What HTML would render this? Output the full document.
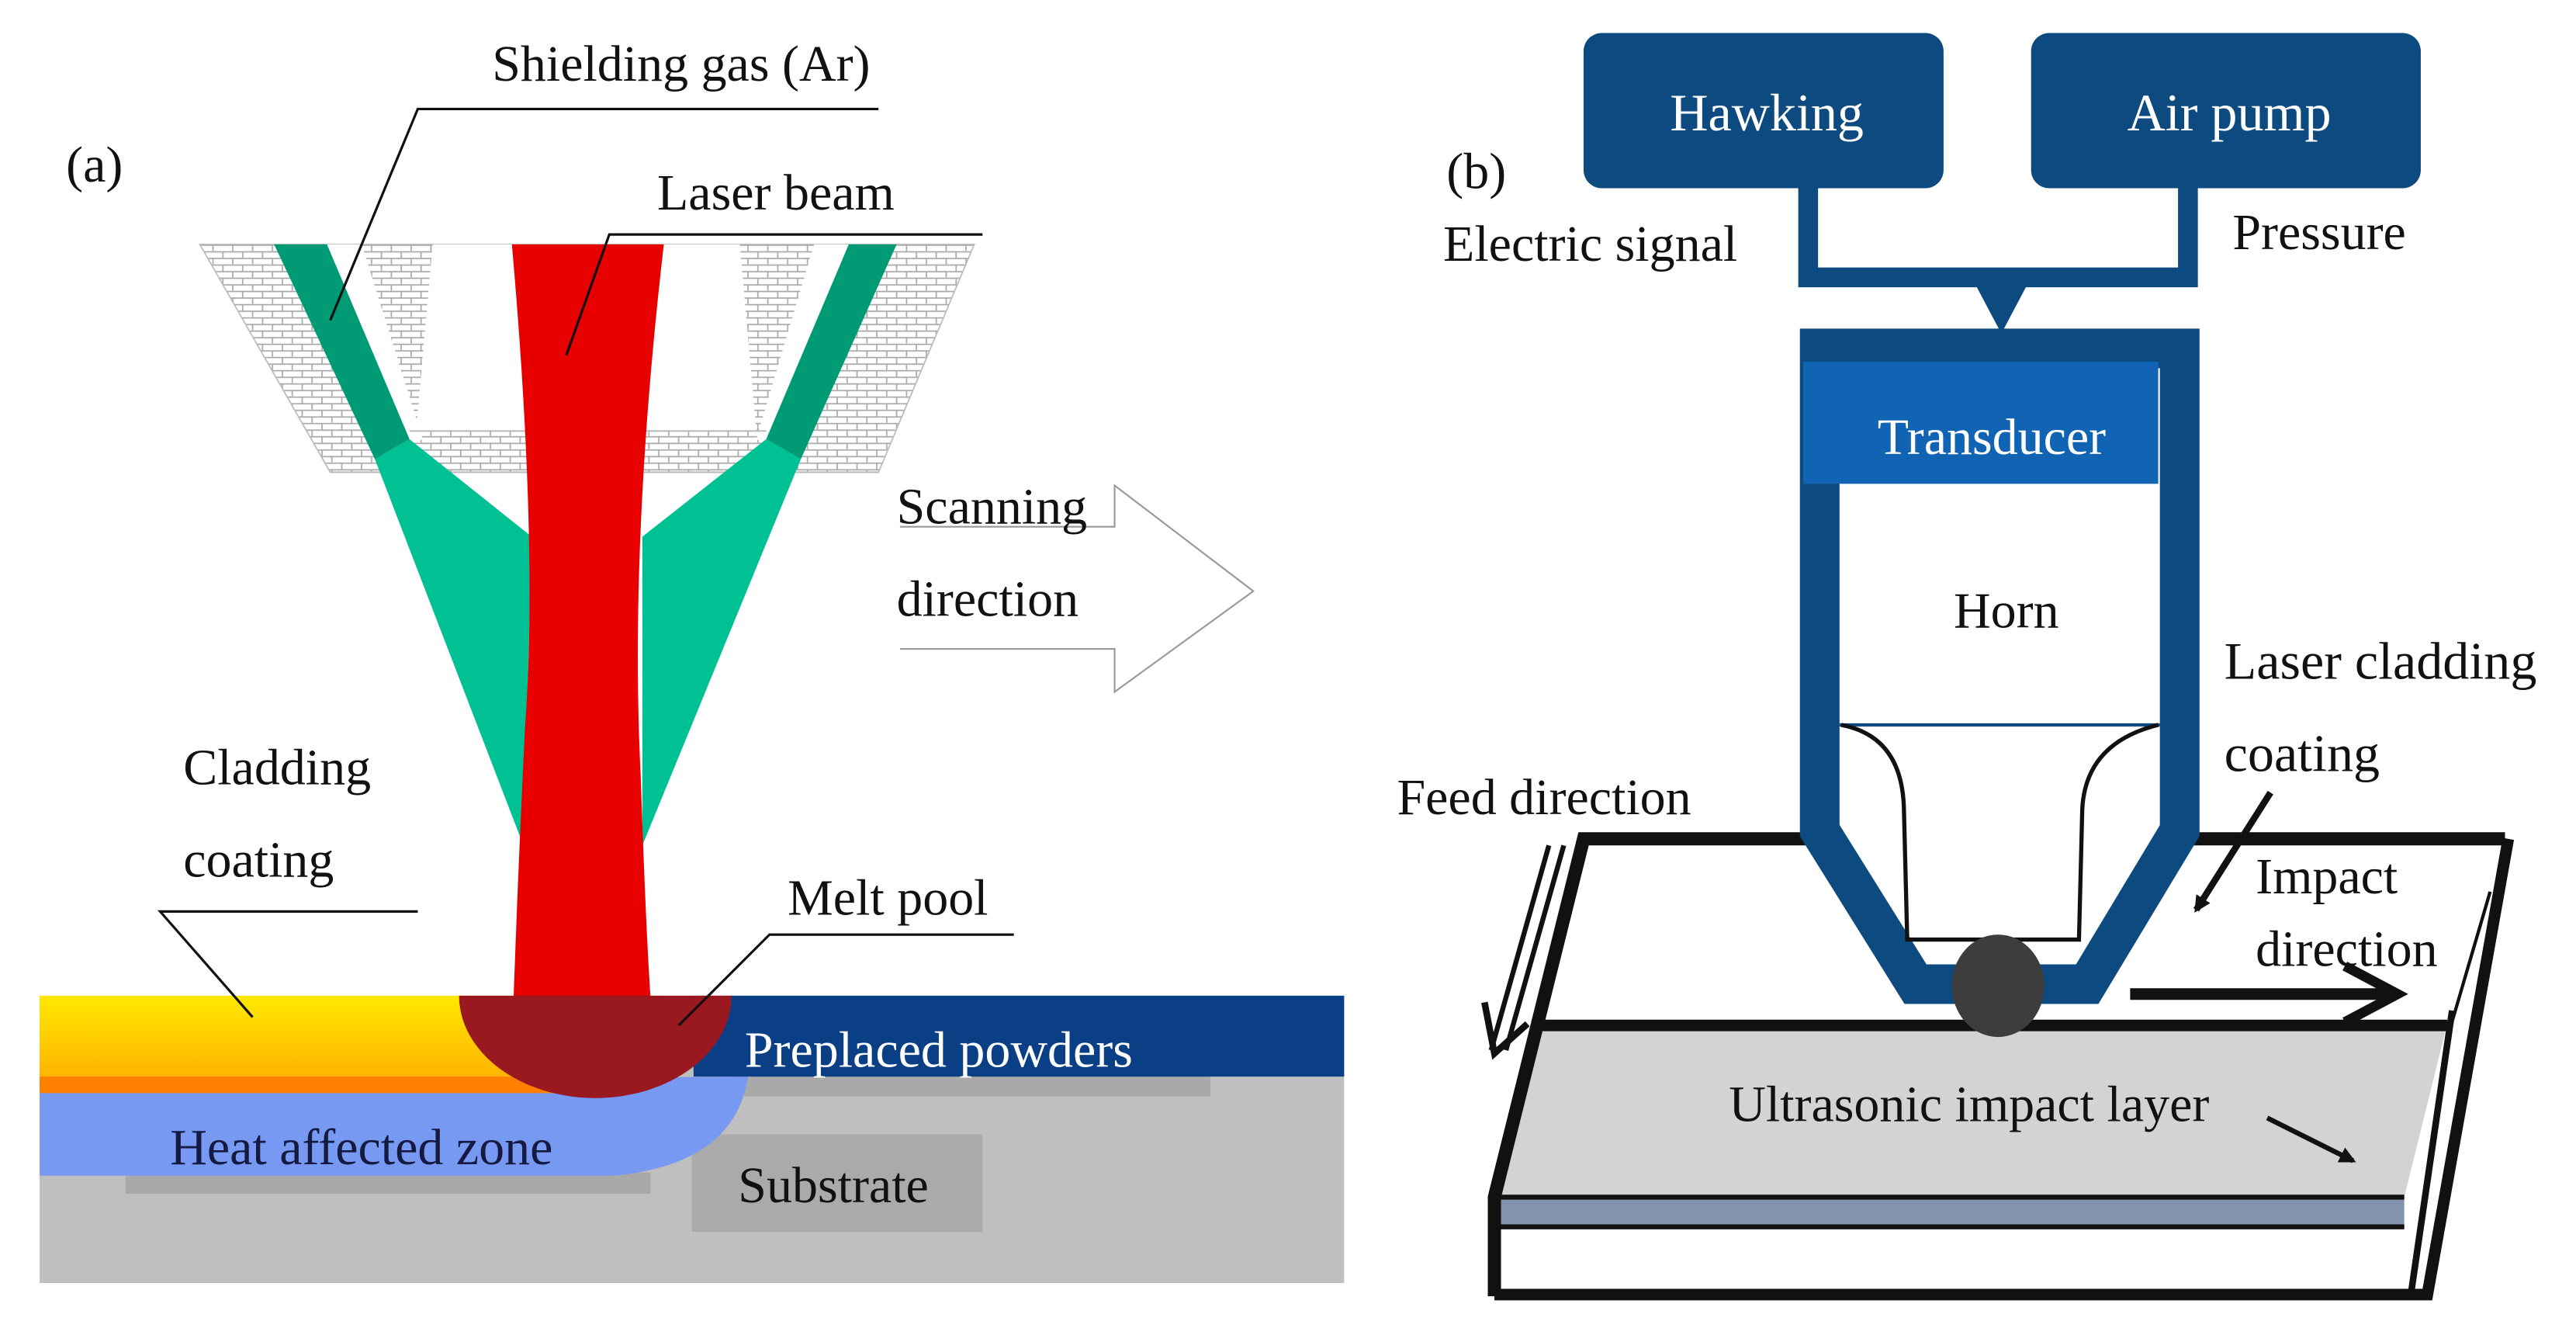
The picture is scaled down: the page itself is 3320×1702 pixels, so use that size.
<!DOCTYPE html>
<html><head><meta charset="utf-8"><style>
html,body{margin:0;padding:0;background:#fff;}
svg{display:block;}
text{font-family:"Liberation Serif",serif;fill:#111;}
</style></head><body>
<svg width="3320" height="1702" viewBox="0 0 1560 800" preserveAspectRatio="none" xmlns="http://www.w3.org/2000/svg">
<defs>
<pattern id="brick" width="12" height="8" patternUnits="userSpaceOnUse">
<rect width="12" height="8" fill="#fff"/>
<path d="M0 0.5H12M0 4.5H12M3 0.5V4.5M9 4.5V8" stroke="#a8a8a8" stroke-width="0.8" fill="none"/>
</pattern>
<linearGradient id="yel" x1="0" y1="0" x2="0" y2="1">
<stop offset="0" stop-color="#ffe800"/><stop offset="1" stop-color="#ffb400"/>
</linearGradient>
<marker id="ah" markerWidth="10" markerHeight="10" refX="8" refY="5" orient="auto" markerUnits="userSpaceOnUse">
<path d="M0,0 L10,5 L0,10 Z" fill="#111"/>
</marker>
</defs>
<rect width="1560" height="800" fill="#fff"/>

<!-- ===== Panel (a) ===== -->
<polygon points="121,148 590,148 532,286 200,286" fill="url(#brick)" stroke="#bbb" stroke-width="0.8"/>
<polygon points="262,148 448,148 458,261 252,261" fill="#fff"/>
<polygon points="198,148 219,148 256,266 236,274" fill="#fff"/>
<polygon points="493,148 514,148 476,274 458,266" fill="#fff"/>
<line x1="248" y1="261" x2="464" y2="261" stroke="#bbb" stroke-width="1"/>
<line x1="200" y1="286" x2="532" y2="286" stroke="#bbb" stroke-width="1"/>
<polygon points="227,278 248,266 322,325 317,512" fill="#00c194"/>
<polygon points="485,278 464,266 389,325 389,512" fill="#00c194"/>
<polygon points="166,148 198,148 248,266 227,278" fill="#009a74"/>
<polygon points="514,148 543,148 485,278 464,266" fill="#009a74"/>
<rect x="24" y="603" width="790" height="174" fill="#bfbfbf"/>
<rect x="443" y="652" width="290" height="12" fill="#a9a9a9"/>
<rect x="76" y="710" width="318" height="13" fill="#a9a9a9"/>
<rect x="419" y="687" width="176" height="59" fill="#aaaaaa"/>
<path d="M24,655 L453,652 Q445,705 372,712 L24,712 Z" fill="#7799f2"/>
<rect x="24" y="650" width="320" height="12" fill="#ff7f00"/>
<rect x="24" y="603" width="300" height="49" fill="url(#yel)"/>
<rect x="420" y="603" width="394" height="49" fill="#0a3f86"/>
<path d="M310,148 L402,148 Q381,330 388,470 Q391,560 394,605 L311,605 Q314,520 318,440 Q326,330 310,148 Z" fill="#e80000"/>
<path d="M278,603 L443,603 A82.5,62 0 0 1 278,603 Z" fill="#9a1820"/>
<text x="40" y="110" font-size="31">(a)</text>
<text x="298" y="49" font-size="31">Shielding gas (Ar)</text>
<polyline points="532,66 253,66 200,194" fill="none" stroke="#111" stroke-width="1.5"/>
<text x="398" y="127" font-size="31">Laser beam</text>
<polyline points="595,142 369,142 343,215" fill="none" stroke="#111" stroke-width="1.5"/>
<text x="477" y="554" font-size="31">Melt pool</text>
<polyline points="614,566 466,566 411,621" fill="none" stroke="#111" stroke-width="1.5"/>
<text x="111" y="475" font-size="31">Cladding</text>
<text x="111" y="531" font-size="31">coating</text>
<polyline points="253,552 97,552 153,616" fill="none" stroke="#111" stroke-width="1.5"/>
<text x="451" y="646" font-size="31" style="fill:#fff">Preplaced powders</text>
<text x="103" y="705" font-size="31" style="fill:#141a40">Heat affected zone</text>
<text x="447" y="728" font-size="31">Substrate</text>
<path d="M545,319 L675,319 L675,294 L759,358 L675,419 L675,393 L545,393" fill="none" stroke="#999" stroke-width="1"/>
<text x="543" y="317" font-size="31">Scanning</text>
<text x="543" y="373" font-size="31">direction</text>

<!-- ===== Panel (b) ===== -->
<rect x="959" y="20" width="218" height="94" rx="11" fill="#0d4a80"/>
<rect x="1230" y="20" width="236" height="94" rx="11" fill="#0d4a80"/>
<text x="1070" y="79" font-size="32" text-anchor="middle" style="fill:#fff">Hawking</text>
<text x="1350" y="79" font-size="32" text-anchor="middle" style="fill:#fff">Air pump</text>
<polyline points="1095,114 1095,168 1325,168 1325,114" fill="none" stroke="#0d4a80" stroke-width="12"/>
<polygon points="1194,168 1230,168 1212,202" fill="#0d4a80"/>
<text x="876" y="114" font-size="31">(b)</text>
<text x="874" y="158" font-size="31">Electric signal</text>
<text x="1352" y="151" font-size="31">Pressure</text>

<polygon points="959,508 1517,508 1482,620 931,620" fill="#fff"/>
<polygon points="931,620 1482,620 1456,725 905,725" fill="#d3d3d3"/>
<rect x="905" y="725" width="551" height="18" fill="#8393ae"/>
<polygon points="905,743 1456,743 1452,785 905,785" fill="#fff"/>
<polyline points="905,785 905,725 959,508 1517,508" fill="none" stroke="#111" stroke-width="8" stroke-linejoin="miter"/>
<line x1="931" y1="621" x2="1482" y2="621" stroke="#111" stroke-width="7"/>
<line x1="905" y1="725" x2="1456" y2="725" stroke="#111" stroke-width="3"/>
<line x1="905" y1="743" x2="1456" y2="743" stroke="#111" stroke-width="3"/>
<polyline points="905,784 1470,784 1519,508" fill="none" stroke="#111" stroke-width="7"/>
<line x1="1485" y1="612" x2="1460" y2="784" stroke="#111" stroke-width="4"/>
<line x1="1508" y1="540" x2="1484" y2="622" stroke="#111" stroke-width="2"/>

<path d="M1102,211 L1102,503 L1160,596 L1264,596 L1320,503 L1320,211 Z" fill="#fff" stroke="#0d4a80" stroke-width="24" stroke-linejoin="miter"/>
<rect x="1092" y="219" width="215" height="74" fill="#1164b4"/>
<text x="1137" y="275" font-size="31" style="fill:#fff">Transducer</text>
<text x="1215" y="380" font-size="31" text-anchor="middle">Horn</text>
<line x1="1114" y1="439" x2="1308" y2="439" stroke="#0d4a80" stroke-width="2"/>
<path d="M1115,439 Q1152,446 1153,490 L1155,569 L1259,569 L1261,490 Q1263,450 1307,439" fill="none" stroke="#111" stroke-width="2.5"/>
<ellipse cx="1210" cy="597" rx="28" ry="31" fill="#3d3d3d"/>

<text x="846" y="493" font-size="31">Feed direction</text>
<line x1="947" y1="512" x2="912" y2="636" stroke="#111" stroke-width="3"/>
<line x1="938" y1="512" x2="903" y2="636" stroke="#111" stroke-width="3"/>
<polyline points="899,607 905,638 925,620" fill="none" stroke="#111" stroke-width="4"/>
<text x="1347" y="411" font-size="32">Laser cladding</text>
<text x="1347" y="467" font-size="32">coating</text>
<line x1="1375" y1="480" x2="1330" y2="551" stroke="#111" stroke-width="4" marker-end="url(#ah)"/>
<text x="1366" y="541" font-size="31">Impact</text>
<text x="1366" y="585" font-size="31">direction</text>
<line x1="1290" y1="602" x2="1450" y2="602" stroke="#111" stroke-width="7"/>
<polyline points="1420,585 1452,602 1420,619" fill="none" stroke="#111" stroke-width="6"/>
<text x="1047" y="679" font-size="31">Ultrasonic impact layer</text>
<line x1="1373" y1="677" x2="1425" y2="703" stroke="#111" stroke-width="3" marker-end="url(#ah)"/>
</svg>
</body></html>
